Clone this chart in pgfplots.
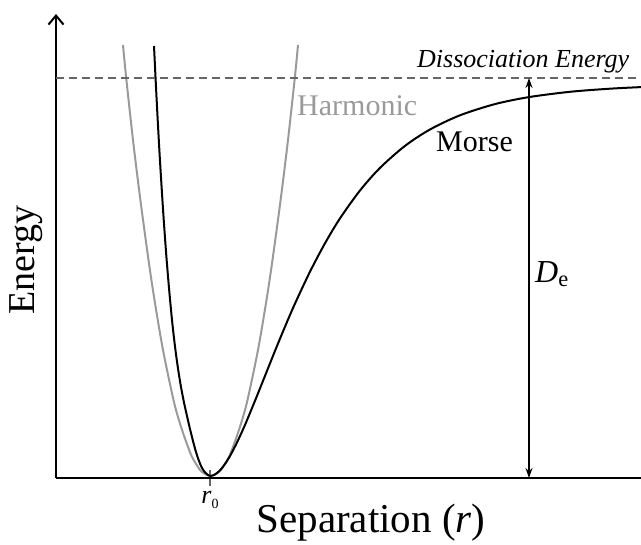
\documentclass[border=0pt]{standalone}
\usepackage{pgfplots}
\pgfplotsset{compat=1.18}
\usepackage{fontspec}
\setmainfont{Liberation Serif}
\usetikzlibrary{arrows.meta}

\definecolor{harmgray}{HTML}{9A9A9A}
\definecolor{dashgray}{HTML}{666666}

\begin{document}
\begin{tikzpicture}
\begin{axis}[
  at={(0pt,0pt)}, anchor=south west,
  scale only axis, width=585pt, height=464pt,
  xmin=0, xmax=585, ymin=0, ymax=464,
  clip=false,
  axis x line=bottom, axis y line=left,
  x axis line style={-, line width=2.4pt},
  y axis line style={-{Straight Barb[length=9pt,width=15pt,line width=2pt]}, line width=2.4pt},
  ytick=\empty,
  xtick={154},
  xticklabels={\fontsize{26}{28}\selectfont\textit{r}\raisebox{-5pt}{\fontsize{14}{14}\selectfont 0}},
  xtick align=center,
  major tick length=16pt,
  tick style={dashgray, line width=1.5pt},
  xticklabel style={inner sep=0pt, yshift=-5pt},
]
% harmonic approximation
\addplot[harmgray, line width=2pt, smooth] coordinates {
  (67,433) (70,402) (77,338) (84,281) (92.5,218) (98.5,178) (107,128)
  (117.5,78) (123.2,57) (129.5,38) (135.6,22) (142,11) (146,6) (154.5,2)
  (163,6) (167,11) (173.4,22) (179.5,38) (185.8,57) (191.5,78) (202,128)
  (210.5,178) (216.5,218) (225,281) (232,338) (239,402) (242,433)
};
% Morse potential
\addplot[black, line width=2pt, smooth] coordinates {
  (98,432) (100,391) (102,352.5) (104,317) (107,269) (110,226.5)
  (113,190) (116,158) (119,131.5) (122,109.5) (125,91) (128,75.5)
  (131,62) (134,49) (137,37) (140,26) (143,17) (146,10) (149,5.6)
  (152,3.1) (154,2) (156,2.3) (159,3.5) (164,7.7) (169,14) (174,22)
  (181,35.5) (189,53.1) (199,77.2) (209,102.1) (219,127.1) (229,151.3)
  (239,174.4) (254,206.3) (269,234.7) (284,259.6) (304,287.5)
  (324,310.1) (349,332.1) (374,348.5) (404,362.7) (439,373.9)
  (473,380.9) (514,386.2) (554,389.3) (585,390.9)
};
% dissociation level
\addplot[dashgray, line width=1.4pt, dash pattern=on 8pt off 5pt] coordinates {(0,400) (585,400)};
% well depth
\addplot[black, line width=1.5pt, {Stealth[length=10pt,width=7pt]}-{Stealth[length=10pt,width=7pt]}] coordinates {(473,0) (473,400)};

\node[anchor=base west, inner sep=0pt, text=harmgray, font=\fontsize{30}{32}\selectfont] at (axis cs:241,362) {Harmonic};
\node[anchor=base west, inner sep=0pt, font=\fontsize{30}{32}\selectfont] at (axis cs:380,326) {Morse};
\node[anchor=base west, inner sep=0pt, font=\fontsize{26}{28}\selectfont\itshape] at (axis cs:361,410) {Dissociation Energy};
\node[anchor=base west, inner sep=0pt, font=\fontsize{32}{34}\selectfont] at (axis cs:479,195) {\textit{D}\textsubscript{e}};
\node[rotate=90, inner sep=0pt, font=\fontsize{38}{40}\selectfont] at (axis cs:-30,218) {Energy};
\node[anchor=base, inner sep=0pt, font=\fontsize{41}{43}\selectfont] at (axis cs:315,-55) {Separation (\textit{r})};
\end{axis}
\pgfresetboundingbox
\path (-56pt,-67pt) rectangle (585pt,478pt);
\end{tikzpicture}
\end{document}
